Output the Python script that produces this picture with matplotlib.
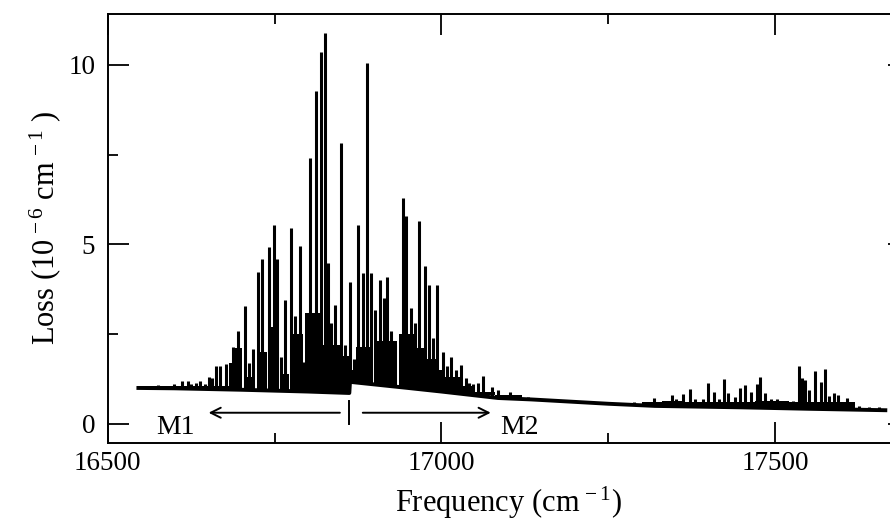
import matplotlib
matplotlib.use("Agg")
import matplotlib.pyplot as plt
import numpy as np

plt.rcParams['font.family'] = ['Liberation Serif', 'DejaVu Serif']
plt.rcParams['mathtext.fontset'] = 'custom'
plt.rcParams['mathtext.rm'] = 'Liberation Serif'
plt.rcParams['mathtext.it'] = 'Liberation Serif:italic'

# baseline of the loss trace (jump at the M1/M2 boundary)
base_f = [16546, 16600, 16700, 16800, 16862, 16863, 16950, 17000, 17085, 17135,
          17250, 17320, 17450, 17550, 17665]
base_v = [1.0, 0.99, 0.95, 0.9, 0.86, 1.17, 1.0, 0.9, 0.72, 0.68,
          0.56, 0.5, 0.46, 0.42, 0.38]

# upper edge of the dense (unresolved) line clusters, level held until next point
env_f = [16546, 16682, 16690, 16701, 16704, 16721, 16723, 16738, 16740, 16757,
         16760, 16771, 16774, 16792, 16796, 16819, 16848, 16862, 16866, 16872,
         16898, 16901, 16933, 16936, 16962, 16975, 16993, 17005, 17030, 17050,
         17080, 17120, 17300, 17330, 17360, 17390, 17470, 17520, 17620]
env_v = [1.05, 1.7, 2.1, 0.0, 1.3, 0.0, 2.0, 0.0, 2.7, 0.0,
         1.4, 0.0, 2.5, 0.0, 3.1, 2.2, 1.9, 0.0, 1.5, 2.15,
         0.0, 2.3, 0.0, 2.5, 2.1, 1.8, 1.5, 1.3, 1.05, 0.9,
         0.8, 0.0, 0.62, 0.65, 0.62, 0.6, 0.65, 0.6, 0.0]

# resolved lines: position (cm-1) and peak loss (1e-6 cm-1)
peak_f = [16560, 16575, 16592, 16600, 16611, 16620, 16625, 16632, 16639, 16646,
          16652, 16657, 16663, 16669, 16677, 16684, 16688, 16695, 16706, 16712,
          16718, 16725, 16731, 16742, 16749, 16754, 16760, 16765, 16775, 16780,
          16788, 16794, 16803, 16812, 16820, 16825, 16830, 16835, 16840, 16850,
          16855, 16863, 16869, 16875, 16882, 16888, 16894, 16900, 16908, 16914,
          16919, 16925, 16930, 16942, 16947, 16955, 16960, 16967, 16975, 16982,
          16987, 16993, 17003, 17008, 17015, 17022, 17030, 17037, 17042, 17048,
          17055, 17063, 17075, 17085, 17102, 17115, 17130, 17150, 17170, 17200,
          17230, 17260, 17289, 17319, 17334, 17345, 17352, 17362, 17372, 17380,
          17392, 17399, 17409, 17416, 17424, 17430, 17440, 17448, 17455, 17464,
          17472, 17477, 17484, 17494, 17502, 17515, 17526, 17535, 17540, 17544,
          17550, 17559, 17569, 17575, 17581, 17588, 17594, 17608, 17625, 17640,
          17655]
peak_v = [1.05, 1.08, 1.06, 1.1, 1.2, 1.2, 1.12, 1.15, 1.2, 1.12,
          1.3, 1.28, 1.6, 1.6, 1.68, 1.55, 2.15, 2.6, 3.29, 1.7,
          2.09, 4.24, 4.59, 4.94, 5.54, 4.6, 1.85, 3.45, 5.45, 3.0,
          4.96, 1.73, 7.4, 9.26, 10.37, 10.88, 4.48, 2.8, 3.3, 7.82,
          2.2, 3.96, 1.8, 5.54, 4.2, 10.05, 4.2, 3.18, 4.0, 3.5,
          4.1, 2.6, 2.2, 6.29, 5.79, 3.22, 2.8, 5.64, 4.4, 3.87,
          2.4, 3.87, 2.01, 1.6, 1.87, 1.5, 1.63, 1.27, 1.15, 1.1,
          1.15, 1.32, 1.03, 0.95, 0.9, 0.78, 0.75, 0.7, 0.65, 0.62,
          0.6, 0.58, 0.6, 0.72, 0.63, 0.81, 0.7, 0.82, 0.97, 0.7,
          0.7, 1.13, 0.9, 0.7, 1.25, 0.85, 0.75, 1.0, 1.08, 0.9,
          1.1, 1.3, 0.85, 0.7, 0.7, 0.6, 0.64, 1.6, 1.28, 1.22,
          0.95, 1.48, 1.17, 1.52, 0.77, 0.86, 0.8, 0.72, 0.5, 0.48,
          0.47]

fig = plt.figure(figsize=(8.9, 5.26), dpi=100)
ax = fig.add_axes([0.121, 0.158, 0.9, 0.8156])

pf = np.array(peak_f)
ax.vlines(pf, np.interp(pf, base_f, base_v), peak_v, color='black', lw=2.2, zorder=2)
ef = np.array(env_f)
eb = np.interp(ef, base_f, base_v)
ax.fill_between(ef, eb, np.maximum(env_v, eb), step='post', color='black', lw=0, zorder=2)
ax.plot(base_f, base_v, color='black', lw=2.8, zorder=2)

# M1 / M2 region markers
ax.annotate('', xy=(16647, 0.31), xytext=(16852, 0.31),
            arrowprops=dict(arrowstyle='->', lw=1.4, mutation_scale=18, color='black'))
ax.annotate('', xy=(17078, 0.31), xytext=(16878, 0.31),
            arrowprops=dict(arrowstyle='->', lw=1.4, mutation_scale=18, color='black'))
ax.plot([16862, 16862], [0.0, 0.65], color='black', lw=1.4)
ax.text(16601, -0.1, 'M1', fontsize=20, ha='center', va='center')
ax.text(17117, -0.1, 'M2', fontsize=20, ha='center', va='center')

ax.set_xlim(16500, 17700)
ax.set_ylim(-0.53, 11.42)
ax.set_xticks([16500, 17000, 17500])
ax.set_xticks([16750, 17250], minor=True)
ax.set_yticks([0, 5, 10])
ax.set_yticks([2.5, 7.5], minor=True)
ax.tick_params(which='both', direction='in', top=True, right=True, width=1.3,
               labelsize=19.5)
ax.tick_params(which='major', length=15, pad=6)
ax.tick_params(which='minor', length=7.5)
ax.tick_params(axis='y', pad=9)
for s in ax.spines.values():
    s.set_linewidth(1.4)

ax.set_xlabel('Frequency (cm$^{\\,-1}$)', fontsize=22, labelpad=6)
ax.set_ylabel('Loss (10$^{\\,-6}$ cm$^{\\,-1}$ )', fontsize=22, labelpad=4)

fig.savefig('out.png', dpi=100)
